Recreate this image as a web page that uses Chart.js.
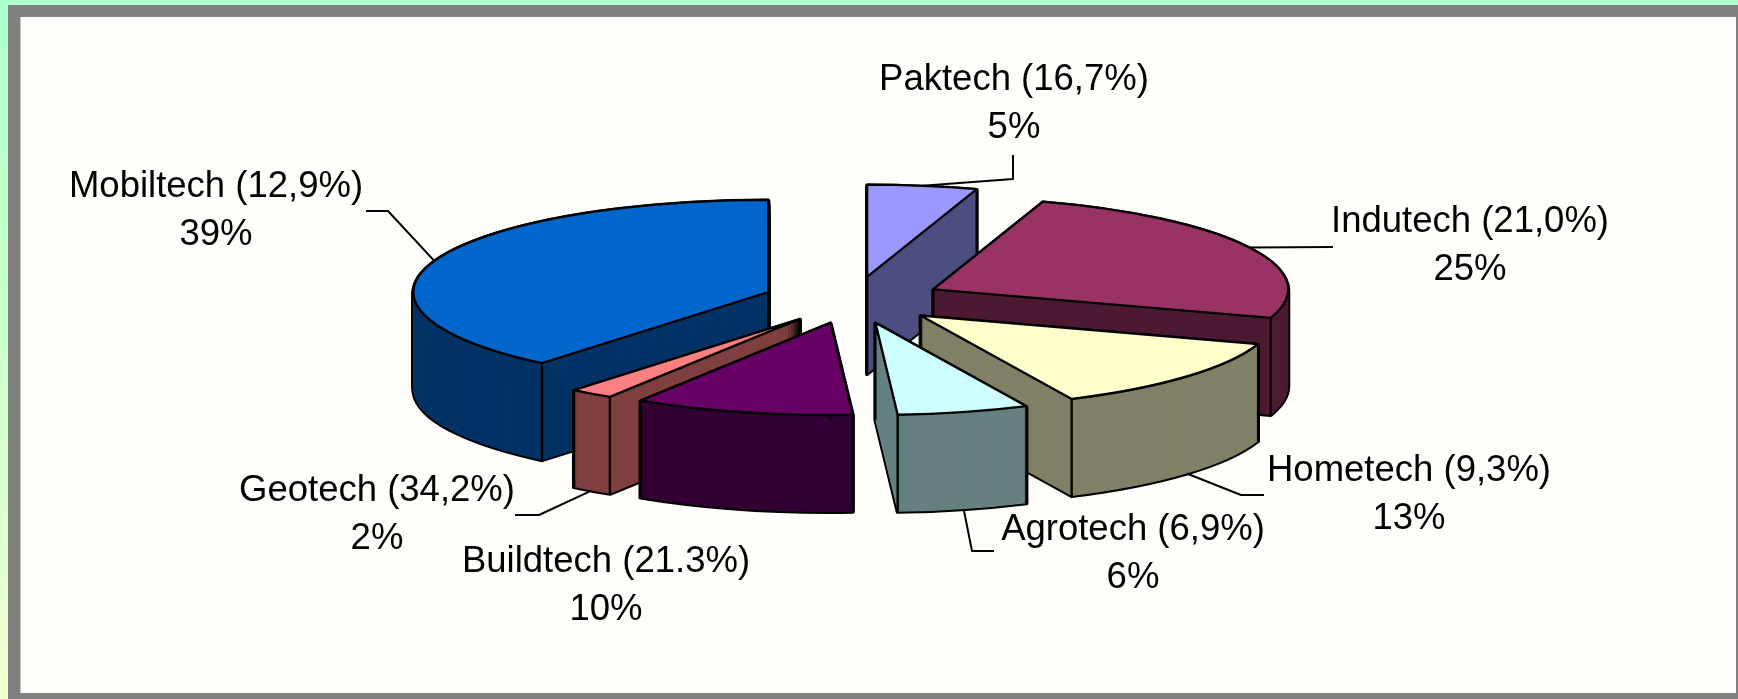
<!DOCTYPE html>
<html>
<head>
<meta charset="utf-8">
<title>Tech sectors</title>
<script src="https://cdn.jsdelivr.net/npm/chart.js@4/dist/chart.umd.min.js"></script>
<style>
    html, body { margin: 0; padding: 0; width: 1738px; height: 699px; overflow: hidden; }
    body { position: relative; background: linear-gradient(#aaffcc, #f0ffd0); }
    #frame { position: absolute; left: 8px; top: 5px; right: 0; bottom: 0; background: #808080; }
    #sheet { position: absolute; left: 20px; top: 17px; width: 1716px; height: 676px; background: #fffefb; border-left: 1px solid #c4c4c4; box-sizing: border-box; }
    canvas { position: absolute; left: 0; top: 0; display: block; }
</style>
</head>
<body>
<div id="frame"></div>
<div id="sheet"></div>
<canvas id="pie" width="1738" height="699"></canvas>
<script>
// Chart data
const sectors = ['Paktech', 'Indutech', 'Hometech', 'Agrotech', 'Buildtech', 'Geotech', 'Mobiltech'];
const sectorShares = ['(16,7%)', '(21,0%)', '(9,3%)', '(6,9%)', '(21.3%)', '(34,2%)', '(12,9%)'];
const percents = [5, 25, 13, 6, 10, 2, 39];

const topColors = ['#9999ff', '#993366', '#ffffcc', '#ccffff', '#660066', '#ff8080', '#0066cc'];
const wallColors = ['#4d4d80', '#4d1a33', '#808066', '#668080', '#330033', '#804040', '#003366'];

// Layout of the fake 3D pie
const tilt = 0.26;
const radius = 355;
const explode = 90;
const depth = 97;
const drawOrder = [0, 1, 6, 5, 2, 4, 3];

// Label centres, two text lines each
const labelCentres = [[1014, 80], [1470, 222], [1409, 471], [1133, 530], [606, 562], [377, 491], [216, 187]];
const lineGap = 48;

// Leader lines run from the middle of the slice edge through these points
const leaders = [
    [[1013, 179], [1013, 155]],
    [[1333, 247]],
    [[1241, 495], [1264, 495]],
    [[972, 551], [994, 551]],
    null,
    [[539, 515], [515, 515]],
    [[388, 211], [366, 211]]
];
const leaderOnBase = [false, false, true, true, false, true, false];

/**
 * Geometry of one exploded slice, taken from the arc element
 */
function sliceGeometry(arc) {
    const { x, y, startAngle, endAngle, outerRadius } = arc.getProps(['x', 'y', 'startAngle', 'endAngle', 'outerRadius'], true);
    const mid = (startAngle + endAngle) / 2;
    const dx = Math.cos(mid) * explode;
    const dy = Math.sin(mid) * explode * tilt;
    return { x, y, dx, dy, ax: x + dx, ay: y + dy, r: outerRadius, ry: outerRadius * tilt, startAngle, endAngle, mid };
}

function tracePath(ctx, g, drop) {
    ctx.beginPath();
    ctx.moveTo(g.ax, g.ay + drop);
    ctx.ellipse(g.ax, g.ay + drop, g.r, g.ry, 0, g.startAngle, g.endAngle);
    ctx.closePath();
}

function rimPoint(g, angle) {
    return [g.ax + Math.cos(angle) * g.r, g.ay + Math.sin(angle) * g.ry];
}

function verticalEdge(ctx, px, py) {
    ctx.beginPath();
    ctx.moveTo(px, py);
    ctx.lineTo(px, py + depth);
    ctx.stroke();
}

function drawSlice(ctx, arc, index) {
    const g = sliceGeometry(arc);
    ctx.lineJoin = 'round';

    // black silhouette of the extruded wedge
    ctx.strokeStyle = '#000';
    ctx.lineWidth = 4;
    for (let d = depth; d > 0; d -= 2) {
        tracePath(ctx, g, d);
        ctx.stroke();
    }

    // walls
    ctx.fillStyle = wallColors[index];
    for (let d = depth; d > 0; d -= 1) {
        tracePath(ctx, g, d);
        ctx.fill();
    }

    // corner edges, the hidden ones end up under the top face
    ctx.lineWidth = 2.4;
    verticalEdge(ctx, g.ax, g.ay);
    const s = rimPoint(g, g.startAngle);
    const e = rimPoint(g, g.endAngle);
    verticalEdge(ctx, s[0], s[1]);
    verticalEdge(ctx, e[0], e[1]);

    // top face is the library's own arc, squashed and shifted
    ctx.save();
    ctx.translate(g.dx, g.dy + g.y);
    ctx.scale(1, tilt);
    ctx.translate(0, -g.y);
    arc.draw(ctx);
    ctx.restore();

    tracePath(ctx, g, 0);
    ctx.strokeStyle = '#000';
    ctx.lineWidth = 2.4;
    ctx.stroke();
}

function drawLabels(ctx, arcs) {
    ctx.strokeStyle = '#000';
    ctx.lineWidth = 2;
    leaders.forEach((points, i) => {
        if (!points) return;
        const g = sliceGeometry(arcs[i]);
        const p = rimPoint(g, g.mid);
        ctx.beginPath();
        ctx.moveTo(p[0], p[1] + (leaderOnBase[i] ? depth : 0));
        points.forEach(pt => ctx.lineTo(pt[0], pt[1]));
        ctx.stroke();
    });

    ctx.fillStyle = '#000';
    ctx.font = '36.5px "Liberation Sans", Arial, sans-serif';
    ctx.textAlign = 'center';
    ctx.textBaseline = 'middle';
    sectors.forEach((name, i) => {
        const [cx, cy] = labelCentres[i];
        ctx.fillText(`${name} ${sectorShares[i]}`, cx, cy);
        ctx.fillText(`${percents[i]}%`, cx, cy + lineGap);
    });
}

const extrudedPie = {
    id: 'extrudedPie',
    beforeDatasetsDraw(chart) {
        const ctx = chart.ctx;
        const arcs = chart.getDatasetMeta(0).data;
        drawOrder.forEach(i => drawSlice(ctx, arcs[i], i));
        drawLabels(ctx, arcs);
        return false;
    }
};

new Chart(document.getElementById('pie').getContext('2d'), {
    type: 'pie',
    data: {
        labels: sectors,
        datasets: [{
            data: percents,
            backgroundColor: topColors,
            borderWidth: 0,
            radius: radius
        }]
    },
    options: {
        responsive: false,
        animation: false,
        // puts the pie centre at 853, 300
        layout: { padding: { left: 0, right: 32, top: 0, bottom: 99 } },
        plugins: {
            legend: { display: false },
            tooltip: { enabled: false }
        }
    },
    plugins: [extrudedPie]
});
</script>
</body>
</html>
